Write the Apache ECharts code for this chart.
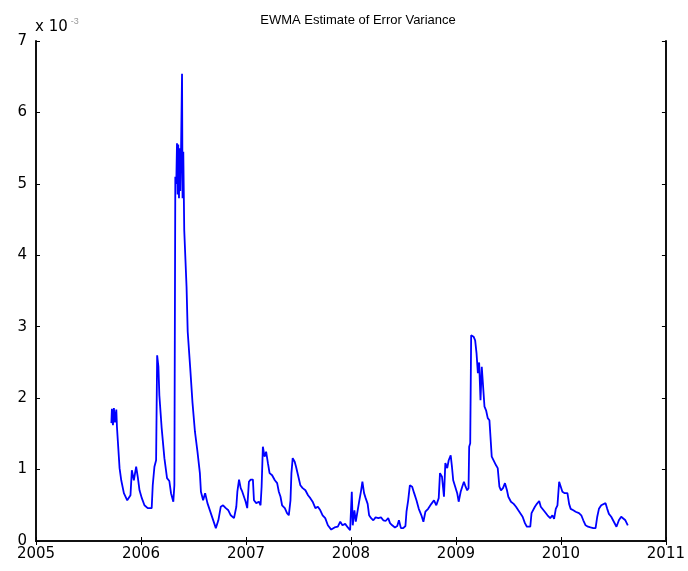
<!DOCTYPE html>
<html>
<head>
<meta charset="utf-8">
<script src="https://cdn.jsdelivr.net/npm/echarts@6/dist/echarts.min.js"></script>
<style>
html,body{margin:0;padding:0;background:#fff;}
#chart{width:688px;height:571px;}
</style>
</head>
<body>
<div id="chart"></div>
<script>
// Decimal years
var years = [
2005.718,2005.723,2005.733,2005.742,2005.752,2005.765,2005.771,2005.780,2005.796,2005.812,
2005.837,2005.869,2005.900,2005.913,2005.932,2005.954,2005.970,2005.986,2006.008,2006.033,
2006.064,2006.102,2006.112,2006.128,2006.144,2006.154,2006.166,2006.175,2006.197,2006.223,
2006.248,2006.270,2006.286,2006.308,2006.318,2006.327,2006.336,2006.343,2006.349,2006.355,
2006.362,2006.368,2006.374,2006.381,2006.391,2006.396,2006.403,2006.412,2006.434,2006.445,
2006.469,2006.491,2006.514,2006.538,2006.561,2006.571,2006.592,2006.611,2006.633,2006.665,
2006.697,2006.713,2006.737,2006.760,2006.782,2006.808,2006.832,2006.855,2006.886,2006.908,
2006.918,2006.934,2006.950,2006.965,2006.981,2006.997,2007.012,2007.028,2007.045,2007.066,
2007.076,2007.098,2007.123,2007.139,2007.149,2007.161,2007.177,2007.192,2007.209,2007.225,
2007.249,2007.275,2007.297,2007.313,2007.329,2007.344,2007.370,2007.391,2007.408,2007.424,
2007.433,2007.445,2007.464,2007.477,2007.496,2007.518,2007.540,2007.566,2007.591,2007.613,
2007.635,2007.661,2007.685,2007.708,2007.730,2007.755,2007.780,2007.812,2007.844,2007.875,
2007.898,2007.919,2007.945,2007.970,2007.992,2008.008,2008.017,2008.033,2008.046,2008.064,
2008.078,2008.097,2008.109,2008.125,2008.140,2008.159,2008.173,2008.192,2008.213,2008.235,
2008.261,2008.286,2008.308,2008.330,2008.355,2008.372,2008.393,2008.419,2008.441,2008.457,
2008.476,2008.498,2008.519,2008.529,2008.545,2008.561,2008.583,2008.602,2008.624,2008.646,
2008.671,2008.690,2008.709,2008.735,2008.766,2008.791,2008.813,2008.836,2008.848,2008.867,
2008.886,2008.899,2008.917,2008.931,2008.950,2008.962,2008.974,2008.993,2009.012,2009.026,
2009.045,2009.060,2009.076,2009.092,2009.107,2009.120,2009.126,2009.136,2009.145,2009.168,
2009.183,2009.196,2009.209,2009.221,2009.234,2009.246,2009.259,2009.272,2009.287,2009.303,
2009.319,2009.329,2009.341,2009.360,2009.382,2009.398,2009.414,2009.429,2009.448,2009.467,
2009.486,2009.499,2009.524,2009.550,2009.572,2009.594,2009.613,2009.635,2009.657,2009.676,
2009.708,2009.720,2009.739,2009.752,2009.771,2009.793,2009.808,2009.825,2009.846,2009.872,
2009.898,2009.919,2009.935,2009.951,2009.967,2009.983,2009.998,2010.014,2010.036,2010.062,
2010.078,2010.093,2010.118,2010.140,2010.172,2010.194,2010.213,2010.235,2010.258,2010.282,
2010.308,2010.330,2010.346,2010.362,2010.384,2010.403,2010.425,2010.441,2010.457,2010.479,
2010.504,2010.529,2010.552,2010.574,2010.592,2010.614,2010.637
];
// Variance in units of 1e-3
var variance = [
1.65,1.85,1.62,1.86,1.66,1.84,1.60,1.39,1.02,0.85,
0.67,0.57,0.64,0.99,0.85,1.04,0.89,0.71,0.60,0.50,
0.46,0.46,0.78,1.04,1.13,2.60,2.44,2.04,1.58,1.16,
0.88,0.84,0.67,0.55,0.78,5.10,5.00,5.57,4.85,5.55,
4.80,5.50,4.90,5.40,6.54,4.80,5.45,4.35,3.56,2.93,
2.42,1.93,1.53,1.25,0.95,0.69,0.57,0.67,0.53,0.39,
0.25,0.18,0.29,0.48,0.50,0.46,0.43,0.36,0.32,0.48,
0.69,0.86,0.74,0.69,0.71,0.55,0.46,0.83,0.86,0.86,
0.57,0.53,0.55,0.50,0.76,1.32,1.18,1.25,1.09,0.95,
0.92,0.85,0.81,0.69,0.62,0.50,0.46,0.39,0.36,0.57,
0.95,1.16,1.11,1.04,0.92,0.78,0.74,0.71,0.64,0.60,
0.55,0.46,0.48,0.43,0.36,0.32,0.22,0.16,0.19,0.20,
0.27,0.22,0.24,0.19,0.15,0.69,0.22,0.43,0.27,0.29,
0.55,0.71,0.83,0.67,0.60,0.52,0.36,0.32,0.29,0.33,
0.32,0.33,0.29,0.28,0.32,0.25,0.22,0.19,0.21,0.29,
0.18,0.18,0.21,0.41,0.57,0.78,0.76,0.67,0.57,0.45,
0.36,0.27,0.41,0.45,0.52,0.57,0.50,0.60,0.95,0.90,
0.62,1.09,1.02,1.13,1.20,1.04,0.85,0.76,0.67,0.55,
0.69,0.76,0.83,0.76,0.71,0.74,1.32,1.37,2.88,2.86,
2.81,2.63,2.35,2.50,1.97,2.44,2.42,1.88,1.83,1.72,
1.69,1.46,1.18,1.16,1.06,1.02,0.76,0.71,0.74,0.81,
0.71,0.62,0.55,0.52,0.48,0.43,0.41,0.34,0.25,0.20,
0.20,0.39,0.41,0.48,0.52,0.56,0.48,0.50,0.41,0.36,
0.32,0.36,0.31,0.45,0.50,0.83,0.81,0.69,0.67,0.67,
0.52,0.45,0.43,0.41,0.39,0.36,0.29,0.22,0.20,0.19,
0.18,0.18,0.34,0.45,0.50,0.51,0.53,0.45,0.38,0.34,
0.27,0.20,0.29,0.34,0.36,0.29,0.22
];
var xTicks = [2005, 2006, 2007, 2008, 2009, 2010, 2011];
var yTicks = [0, 1, 2, 3, 4, 5, 6, 7];
var titleText = 'EWMA Estimate of Error Variance';

var chart = echarts.init(document.getElementById('chart'), null, {renderer: 'canvas'});
var pts = years.map(function (y, i) { return [y, variance[i]]; });
var font = 'Liberation Sans, Arial, sans-serif';
var tickFont = 'DejaVu Sans, sans-serif';
var axisCommon = {
  axisLine: {show: true, lineStyle: {color: '#111', width: 2}},
  axisTick: {show: true, inside: true, length: 4, lineStyle: {color: '#000', width: 1}},
  splitLine: {show: false}
};
chart.setOption({
  animation: false,
  backgroundColor: '#fff',
  title: {
    text: titleText, left: 353, top: 9, textAlign: 'center',
    textStyle: {fontFamily: font, fontSize: 13, fontWeight: 'normal', color: '#000'}
  },
  graphic: [{
    type: 'text', left: 35, top: 17,
    style: {
      text: '{a|x 10}{b|-3}',
      rich: {
        a: {fontFamily: tickFont, fontSize: 15, fill: '#000'},
        b: {fontFamily: font, fontSize: 9, fill: '#999', verticalAlign: 'top', padding: [0, 0, 12, 3]}
      }
    }
  }],
  grid: {left: 36, right: 19, top: 41, bottom: 30, containLabel: false},
  xAxis: [
    Object.assign({
      type: 'value', min: xTicks[0], max: xTicks[xTicks.length - 1], interval: 1,
      axisLabel: {fontFamily: tickFont, fontSize: 15, color: '#000', margin: 6,
        formatter: function (v) { return xTicks.indexOf(v) >= 0 ? String(v) : ''; }}
    }, axisCommon),
    Object.assign({
      type: 'value', position: 'top', min: xTicks[0], max: xTicks[xTicks.length - 1], interval: 1,
      axisLabel: {show: false}
    }, axisCommon)
  ],
  yAxis: [
    Object.assign({
      type: 'value', min: yTicks[0], max: yTicks[yTicks.length - 1], interval: 1,
      axisLabel: {fontFamily: tickFont, fontSize: 15, color: '#000', margin: 9,
        formatter: function (v) { return yTicks.indexOf(v) >= 0 ? String(v) : ''; }}
    }, axisCommon),
    Object.assign({
      type: 'value', position: 'right', min: yTicks[0], max: yTicks[yTicks.length - 1], interval: 1,
      axisLabel: {show: false}
    }, axisCommon)
  ],
  series: [{
    type: 'line', data: pts, xAxisIndex: 0, yAxisIndex: 0,
    showSymbol: false, symbol: 'none',
    lineStyle: {color: '#0000ff', width: 1.8},
    z: 1
  }]
});
</script>
</body>
</html>
